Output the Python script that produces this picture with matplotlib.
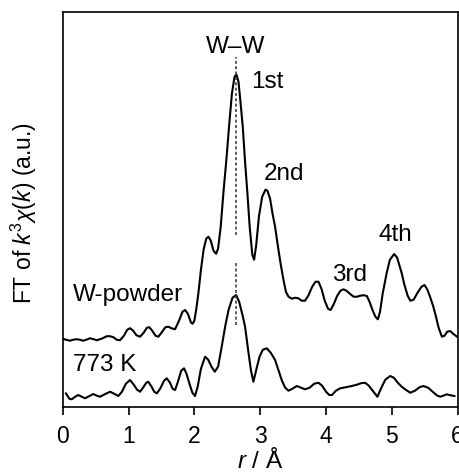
import matplotlib
matplotlib.use("Agg")
import matplotlib.pyplot as plt

plt.rcParams['font.family'] = ['Liberation Sans', 'DejaVu Sans']
plt.rcParams['mathtext.fontset'] = 'custom'
plt.rcParams['mathtext.rm'] = 'Liberation Sans'
plt.rcParams['mathtext.it'] = 'Liberation Sans:italic'

# W-powder curve (r in Angstrom, height in arbitrary units, offset included)
r_powder = [0.00, 0.05, 0.11, 0.16, 0.21, 0.26, 0.31, 0.36, 0.415, 0.47, 0.517, 0.59, 0.67, 0.72,
            0.77, 0.82, 0.87, 0.93, 0.98, 1.023, 1.07, 1.12, 1.175, 1.23, 1.28, 1.316, 1.36, 1.41,
            1.453, 1.50, 1.56, 1.605, 1.65, 1.707, 1.76, 1.82, 1.86, 1.90, 1.95, 1.975, 2.00, 2.03,
            2.06, 2.10, 2.14, 2.18, 2.213, 2.25, 2.29, 2.33, 2.36, 2.40, 2.44, 2.49, 2.53, 2.57,
            2.61, 2.64, 2.67, 2.70, 2.735, 2.77, 2.806, 2.84, 2.88, 2.907, 2.94, 2.98, 3.03, 3.08,
            3.11, 3.15, 3.19, 3.226, 3.27, 3.31, 3.35, 3.39, 3.43, 3.48, 3.53, 3.58, 3.63, 3.68,
            3.73, 3.79, 3.84, 3.885, 3.93, 3.98, 4.03, 4.07, 4.12, 4.17, 4.22, 4.265, 4.31, 4.37,
            4.42, 4.47, 4.52, 4.57, 4.62, 4.66, 4.71, 4.75, 4.787, 4.82, 4.86, 4.92, 4.97, 5.035,
            5.08, 5.12, 5.15, 5.19, 5.24, 5.28, 5.33, 5.39, 5.45, 5.496, 5.54, 5.59, 5.63, 5.67,
            5.71, 5.76, 5.80, 5.84, 5.886, 5.93, 5.99]
h_powder = [68, 67, 66, 67, 67.5, 67, 66, 67, 68.5, 67.5, 66.5, 68, 70.5, 70.5,
            69.5, 67, 66.5, 71, 77, 78.5, 76, 71.5, 70, 74, 79, 79.5, 76, 71,
            70, 74, 79.5, 80, 78.5, 77.5, 85, 95, 96.7, 93, 84, 83, 86, 98,
            113, 137, 157, 168, 170, 166, 156, 153, 158, 180, 213, 250, 283, 313,
            330, 332, 325, 305, 280, 245, 213, 180, 152, 147, 162, 190, 210, 217,
            216, 208, 192, 180, 160, 143, 128, 115, 110, 108, 109, 108.4, 106, 106,
            111, 120, 125, 125, 118, 106, 98, 96.7, 103, 111, 116, 117.4, 116, 112.5,
            110, 110, 111, 111.5, 110.7, 105, 96, 90, 87.4, 95, 113, 133.4, 147, 152.7,
            149, 140, 133.4, 122, 111, 106, 107, 114, 120, 121.7, 117, 108, 100, 90,
            79, 70, 71, 75, 75.7, 73, 70]

# 773 K curve
r_773 = [0.05, 0.10, 0.137, 0.19, 0.237, 0.29, 0.34, 0.40, 0.465, 0.52, 0.567, 0.64, 0.72, 0.78,
         0.845, 0.90, 0.96, 1.023, 1.08, 1.13, 1.175, 1.22, 1.27, 1.30, 1.35, 1.39, 1.43, 1.48,
         1.54, 1.58, 1.63, 1.67, 1.707, 1.75, 1.80, 1.843, 1.88, 1.93, 1.97, 2.01, 2.05, 2.10,
         2.163, 2.21, 2.26, 2.31, 2.36, 2.41, 2.467, 2.52, 2.58, 2.634, 2.68, 2.73, 2.77, 2.82,
         2.86, 2.897, 2.94, 2.99, 3.04, 3.10, 3.16, 3.226, 3.28, 3.33, 3.38, 3.43, 3.49, 3.556,
         3.62, 3.68, 3.75, 3.82, 3.885, 3.94, 4.00, 4.05, 4.09, 4.15, 4.215, 4.30, 4.39, 4.47,
         4.53, 4.594, 4.65, 4.72, 4.78, 4.84, 4.90, 4.974, 5.03, 5.09, 5.15, 5.21, 5.28, 5.35,
         5.42, 5.48, 5.55, 5.62, 5.68, 5.734, 5.78, 5.83, 5.89, 5.95]
h_773 = [13.3, 8, 7.4, 10, 11.7, 10, 8.4, 10.5, 12.7, 11, 10, 12.5, 15, 13,
         10.7, 15, 23, 26.7, 22, 17, 15, 19, 24, 25, 20, 15, 13.4, 18,
         26, 28.4, 24, 18, 16.7, 25, 36, 38.4, 33, 22, 14, 10.7, 20, 38,
         50, 47, 40, 35, 40, 58, 80, 97, 109, 111.7, 105, 92, 80, 55,
         36, 25, 37, 50, 57, 58.4, 54, 46.7, 36, 26, 19, 16, 18, 20.7,
         19, 17.4, 19, 23, 24, 21, 15, 11.7, 11.7, 16, 18.4, 19.5, 20.7, 22,
         23.5, 24, 21, 15, 10, 19, 27, 30.7, 29, 24, 20, 17, 14, 16,
         19.5, 20.7, 19, 15, 11.5, 10, 11, 12.4, 11.5, 10.7]

# W-W first shell position markers
r_ww = 2.63
marker_top = (171.7, 350)
marker_bottom = (81.7, 143.4)

peak_labels = ['W\u2013W', '1st', '2nd', '3rd', '4th']
peak_r = [2.633, 2.856, 3.05, 4.086, 4.795]
peak_h = [360, 325, 233, 132, 172]

sample_labels = ['W-powder', '773 K']
sample_h = [111.7, 41.7]


def main():
    fig = plt.figure(figsize=(4.59, 4.72), dpi=100)
    ax = fig.add_axes([0.1366, 0.1383, 0.8606, 0.8369])

    ax.plot(r_powder, h_powder, color='black', lw=1.5)
    ax.plot(r_773, h_773, color='black', lw=1.5)

    ax.plot([r_ww, r_ww], marker_top, color='#333333', lw=1.1, ls=(0, (2, 1.5)))
    ax.plot([r_ww, r_ww], marker_bottom, color='#333333', lw=1.1, ls=(0, (2, 1.5)))

    for i, lab in enumerate(peak_labels):
        ha = 'center' if i == 0 else 'left'
        ax.text(peak_r[i], peak_h[i], lab, ha=ha, va='center', fontsize=17.5)

    for lab, h in zip(sample_labels, sample_h):
        ax.text(0.152, h, lab, ha='left', va='center', fontsize=17.5)

    ax.set_xlim(0, 6)
    ax.set_ylim(0, 395)
    ax.set_xticks(range(7))
    ax.set_yticks([])
    ax.tick_params(axis='x', direction='out', length=6, width=1.2, pad=7, labelsize=16.5)
    for s in ax.spines.values():
        s.set_linewidth(1.2)

    ax.set_xlabel('$r$ / \u00c5', fontsize=17.5)
    ax.xaxis.set_label_coords(0.5, -0.105)
    ax.set_ylabel('FT of $k^3\\chi(k)$ (a.u.)', fontsize=16.5)
    ax.yaxis.set_label_coords(-0.06, 0.49)

    fig.savefig('out.png', dpi=100)


if __name__ == '__main__':
    main()
